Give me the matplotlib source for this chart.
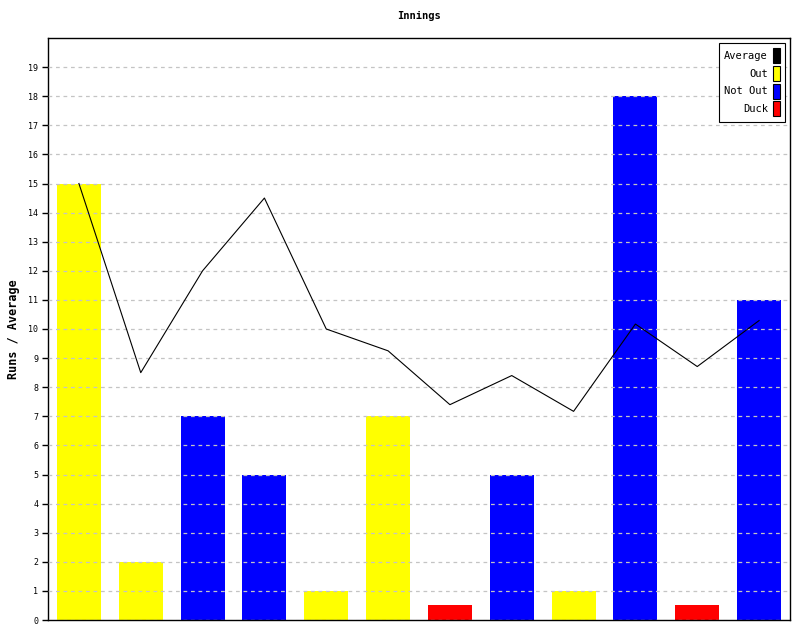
import matplotlib.pyplot as plt
from matplotlib.patches import Rectangle

# innings data
runs = [15, 2, 7, 5, 1, 7, 0.5, 5, 1, 18, 0.5, 11]
kinds = ["Out", "Out", "Not Out", "Not Out", "Out", "Out", "Duck",
         "Not Out", "Out", "Not Out", "Duck", "Not Out"]
average = [15, 8.5, 12, 14.5, 10, 9.25, 7.4, 8.4, 7.17, 10.17, 8.71, 10.29]

colours = {"Average": "#000000", "Out": "#ffff00", "Not Out": "#0000ff", "Duck": "#ff0000"}

plt.rcParams['font.family'] = 'DejaVu Sans Mono'

fig = plt.figure(figsize=(8, 6.4), dpi=100)
ax = fig.add_axes([0.06, 0.03125, 0.9275, 0.909375])

x = list(range(len(runs)))
ax.bar(x, runs, width=0.71, color=[colours[k] for k in kinds], zorder=1)
ax.plot(x, average, color="black", linewidth=0.8, zorder=3)

ax.set_xlim(-0.5, len(runs) - 0.5)
ax.set_ylim(0, 20)
ax.set_yticks(range(20))
ax.set_xticks([])
ax.tick_params(axis="y", labelsize=6, length=4, width=1, direction="out", pad=3)
ax.yaxis.grid(True, linestyle=(0, (3, 3)), color="#c4c4c4", linewidth=0.9, zorder=2)
ax.set_axisbelow(False)
for s in ax.spines.values():
    s.set_linewidth(1)

ax.set_title("Innings", fontsize=7.5, fontweight="bold", pad=14)
ax.set_ylabel("Runs / Average", fontsize=8.5, fontweight="bold", labelpad=6)

handles = [Rectangle((0, 0), 1, 1, facecolor=colours[k], edgecolor="black", linewidth=0.8)
           for k in ["Average", "Out", "Not Out", "Duck"]]
leg = ax.legend(handles, ["Average", "Out", "Not Out", "Duck"], loc="upper right",
                markerfirst=False, fontsize=7.5, handlelength=0.7, handleheight=1.85,
                handletextpad=0.45, labelspacing=0.25, borderpad=0.5, borderaxespad=0,
                fancybox=False, framealpha=1, edgecolor="black",
                bbox_to_anchor=(0.9935, 0.9914))
leg.get_frame().set_linewidth(0.8)

fig.savefig("out.png", dpi=100)
